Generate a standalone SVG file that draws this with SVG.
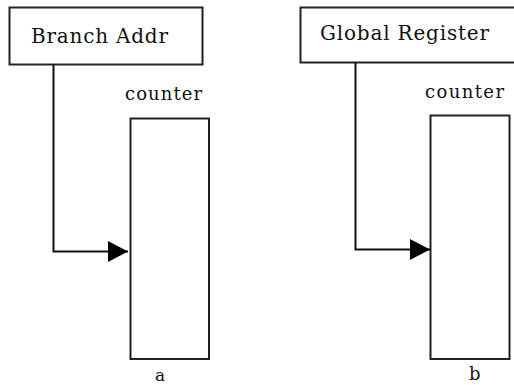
<svg xmlns="http://www.w3.org/2000/svg" width="514" height="385" viewBox="0 0 514 385">
  <style>
    .box { fill: #ffffff; stroke: #222222; stroke-width: 2; }
    .wire { fill: none; stroke: #111111; stroke-width: 2; }
    .label { font-family: "DejaVu Serif", "Liberation Serif", serif; fill: #111111; }
  </style>
  <defs>
    <marker id="arrow" markerWidth="20" markerHeight="21" refX="20" refY="10.5" orient="auto" markerUnits="userSpaceOnUse">
      <path d="M0,0 L20,10.5 L0,21 Z" fill="#000000"/>
    </marker>
  </defs>
  <rect width="514" height="385" fill="#ffffff"/>

  <!-- left: indexed by branch address -->
  <g id="branch-addr">
    <rect class="box" x="9.5" y="7.5" width="193" height="57"/>
    <text class="label" x="31" y="43" font-size="20" textLength="137" lengthAdjust="spacing">Branch Addr</text>
  </g>
  <g id="counter-a">
    <text class="label" x="125" y="100" font-size="18" textLength="77" lengthAdjust="spacing">counter</text>
    <rect class="box" x="130.5" y="118.5" width="78.5" height="240.5"/>
    <text class="label" x="155" y="381" font-size="17">a</text>
  </g>

  <!-- right: indexed by global history register -->
  <g id="global-register">
    <rect class="box" x="300.5" y="7.5" width="220" height="55"/>
    <text class="label" x="320" y="40" font-size="20" textLength="169" lengthAdjust="spacing">Global Register</text>
  </g>
  <g id="counter-b">
    <text class="label" x="425" y="98" font-size="18" textLength="79" lengthAdjust="spacing">counter</text>
    <rect class="box" x="430.5" y="115.5" width="79" height="243.5"/>
    <text class="label" x="469" y="380" font-size="18">b</text>
  </g>

  <g id="connectors">
    <path class="wire" d="M53.5,64.5 V251.5 H128" marker-end="url(#arrow)"/>
    <path class="wire" d="M355.5,62.5 V249.5 H430" marker-end="url(#arrow)"/>
  </g>
</svg>
